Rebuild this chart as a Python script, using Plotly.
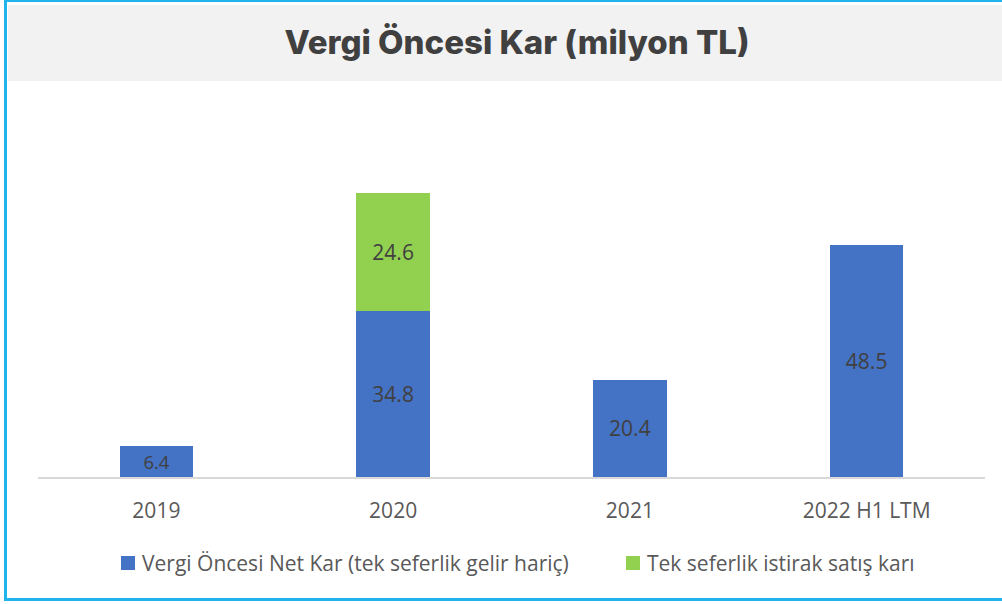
import plotly.graph_objects as go

categories = ["2019", "2020", "2021", "2022 H1 LTM"]
net_kar = [6.4, 34.8, 20.4, 48.5]
tek_seferlik = [None, 24.6, None, None]
series_names = ["Vergi Öncesi Net Kar (tek seferlik gelir hariç)", "Tek seferlik istirak satış karı"]
series_colors = ["#4472c4", "#92d050"]
title_text = "Vergi Öncesi Kar (milyon TL)"

W, H = 1002, 604
L, R = 38, 985
B, T = 477, 119
YMAX = 75.0

def px(x):
    return (x - L) / (R - L)

def py(y):
    return (B - y) / (B - T)

font_family = "Open Sans"
txt_color = "#404040"
axis_txt = "#595959"
border = "#1fb4ec"

fig = go.Figure()
for vals, name, col in [(net_kar, series_names[0], series_colors[0]),
                        (tek_seferlik, series_names[1], series_colors[1])]:
    fig.add_trace(go.Bar(
        x=categories, y=vals, name=name,
        marker=dict(color=col, line=dict(width=0)),
        text=[f"{v:.1f}" if v is not None else "" for v in vals],
        textposition="inside", insidetextanchor="middle",
        textfont=dict(color=txt_color, size=21, family=font_family),
        width=0.31, showlegend=False, hoverinfo="skip",
    ))

shapes = [
    dict(type="rect", xref="paper", yref="paper",
         x0=px(8), x1=px(W), y0=py(81), y1=py(5),
         fillcolor="#f2f2f2", line=dict(width=0), layer="below"),
    # border: left, top, bottom (right edge lies outside the picture)
    dict(type="line", xref="paper", yref="paper",
         x0=px(5.5), x1=px(5.5), y0=py(601), y1=py(0),
         line=dict(color=border, width=3)),
    dict(type="line", xref="paper", yref="paper",
         x0=px(4), x1=px(W), y0=py(0.5), y1=py(0.5),
         line=dict(color=border, width=3)),
    dict(type="line", xref="paper", yref="paper",
         x0=px(4), x1=px(W), y0=py(599.5), y1=py(599.5),
         line=dict(color=border, width=3)),
]

# manual legend (square marker + text), positions
legend_pos = [(121, 563), (626, 563)]
annotations = []
for (lx, ly), name, col in zip(legend_pos, series_names, series_colors):
    shapes.append(dict(type="rect", xref="paper", yref="paper",
                       x0=px(lx), x1=px(lx + 14), y0=py(ly + 7), y1=py(ly - 7),
                       fillcolor=col, line=dict(width=0)))
    annotations.append(dict(text=name, xref="paper", yref="paper",
                            x=px(lx + 19), y=py(ly), xanchor="left", yanchor="middle",
                            showarrow=False,
                            font=dict(family=font_family, size=21, color=axis_txt)))

fig.update_layout(
    width=W, height=H,
    barmode="stack",
    paper_bgcolor="white", plot_bgcolor="white",
    margin=dict(l=L, r=W - R, t=T, b=H - B, autoexpand=False),
    title=dict(text=title_text, x=px(517), xref="paper", xanchor="center",
               y=1 - 42 / H, yanchor="middle",
               font=dict(family="Inter", size=33, color=txt_color, weight=800)),
    xaxis=dict(showline=True, linecolor="#d9d9d9", linewidth=2, ticks="",
               tickfont=dict(family=font_family, size=21, color=axis_txt),
               ticklabelstandoff=14,
               showgrid=False, zeroline=False, fixedrange=True),
    yaxis=dict(range=[0, YMAX], visible=False, showgrid=False, zeroline=False, fixedrange=True),
    shapes=shapes,
    annotations=annotations,
    showlegend=False,
    bargap=0.69,
)

fig.write_html(
    "out.html", config={"displayModeBar": False},
    post_script=("document.documentElement.style.overflow='hidden';"
                 "document.body.style.overflow='hidden';"
                 "document.body.style.margin='0';document.body.style.padding='0';"))
